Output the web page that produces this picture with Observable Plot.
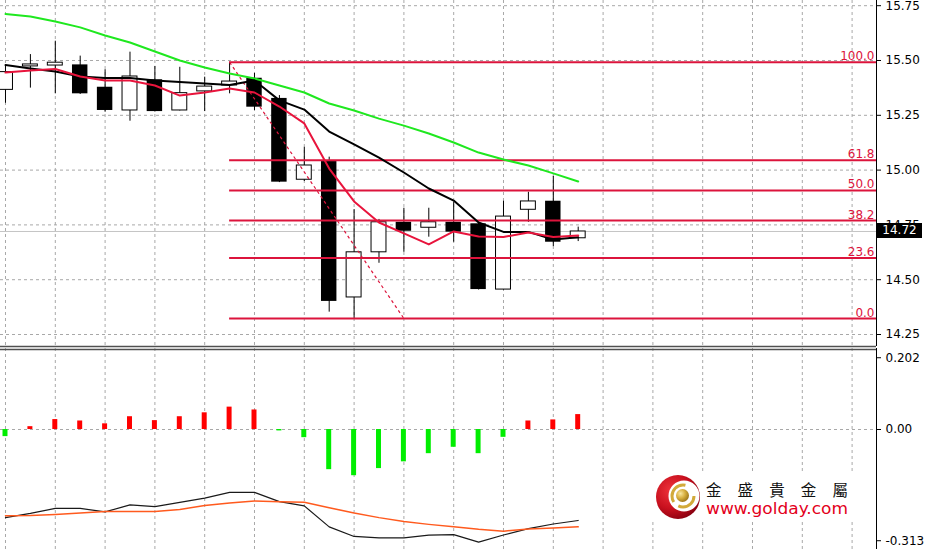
<!DOCTYPE html>
<html>
<head>
<meta charset="utf-8">
<script src="https://cdn.jsdelivr.net/npm/d3@7"></script>
<script src="https://cdn.jsdelivr.net/npm/@observablehq/plot@0.6"></script>
<style>
html, body { margin: 0; padding: 0; background: #fff; }
#wrap { position: relative; width: 929px; height: 549px; overflow: hidden; font-family: "DejaVu Sans", sans-serif; }
#main { position: absolute; left: 0; top: 0; }
#sub { position: absolute; left: 0; top: 348px; }
#price { position: absolute; left: 877px; width: 45px; height: 15px; line-height: 15px; background: #000; color: #fff;
  font: 12px "DejaVu Sans", sans-serif; text-align: center; }
#logo { position: absolute; left: 650px; top: 472px; }
</style>
</head>
<body>
<div id="wrap">
  <div id="main"></div>
  <div id="sub"></div>
  <div id="price"></div>
  <svg id="logo" width="206" height="50" viewBox="0 0 206 50">
    <defs>
      <radialGradient id="rg" cx="35%" cy="35%" r="70%">
        <stop offset="0" stop-color="#f0343c"/>
        <stop offset="0.6" stop-color="#c8101e"/>
        <stop offset="1" stop-color="#8a0010"/>
      </radialGradient>
      <radialGradient id="gg" cx="35%" cy="35%" r="70%">
        <stop offset="0" stop-color="#f8e6a0"/>
        <stop offset="0.5" stop-color="#d8b040"/>
        <stop offset="1" stop-color="#9a7418"/>
      </radialGradient>
    </defs>
    <rect x="0" y="0" width="206" height="50" fill="#fff"/>
    <circle cx="28" cy="25" r="22" fill="url(#rg)"/>
    <circle cx="34" cy="24" r="15.5" fill="#fff"/>
    <circle cx="33" cy="24" r="11" fill="none" stroke="#d2aa3a" stroke-width="3" stroke-dasharray="22 6 26 15"/>
    <circle cx="32.5" cy="23.5" r="6.5" fill="url(#gg)"/>
    <text x="56" y="23.5" font-family="Noto Sans CJK TC" font-size="15.5" fill="#111" textLength="142" lengthAdjust="spacing">金盛貴金屬</text>
    <text x="56" y="42" font-family="DejaVu Sans" font-size="15.5" fill="#e3001b" textLength="142" lengthAdjust="spacingAndGlyphs">www.golday.com</text>
  </svg>
</div>
<script>
// ---- candle data (one entry per bar) ----
const open  = [15.366, 15.473, 15.477, 15.480, 15.378, 15.272, 15.412, 15.272, 15.359, 15.386, 15.419, 15.327,
               14.956, 15.039, 14.419, 14.625, 14.762, 14.737, 14.762, 14.755, 14.455, 14.819, 14.858, 14.689];
const high  = [15.473, 15.527, 15.588, 15.520, 15.458, 15.538, 15.473, 15.469, 15.424, 15.492, 15.441, 15.340,
               15.104, 15.059, 14.820, 14.775, 14.826, 14.826, 14.854, 14.758, 14.858, 14.899, 14.971, 14.740];
const low   = [15.305, 15.374, 15.348, 15.345, 15.264, 15.223, 15.265, 15.270, 15.267, 15.348, 15.272, 14.943,
               14.948, 14.352, 14.323, 14.575, 14.625, 14.694, 14.671, 14.453, 14.453, 14.762, 14.651, 14.674];
const close = [15.447, 15.482, 15.490, 15.348, 15.272, 15.427, 15.267, 15.351, 15.381, 15.404, 15.287, 14.945,
               15.021, 14.401, 14.625, 14.762, 14.721, 14.762, 14.717, 14.455, 14.788, 14.857, 14.671, 14.720];

// ---- moving averages ----
const maRed   = [15.445, 15.454, 15.461, 15.427, 15.409, 15.409, 15.386, 15.340, 15.354, 15.372, 15.354, 15.290,
                 15.213, 15.007, 14.857, 14.761, 14.711, 14.661, 14.720, 14.697, 14.695, 14.715, 14.695, 14.702];
const maBlack = [15.479, 15.464, 15.450, 15.427, 15.420, 15.420, 15.409, 15.402, 15.395, 15.388, 15.409, 15.318,
                 15.276, 15.176, 15.117, 15.057, 14.989, 14.916, 14.861, 14.761, 14.718, 14.718, 14.683, 14.694];
const maGreen = [15.712, 15.701, 15.678, 15.651, 15.614, 15.582, 15.541, 15.500, 15.468, 15.441, 15.418, 15.386,
                 15.354, 15.304, 15.272, 15.235, 15.203, 15.167, 15.126, 15.080, 15.048, 15.021, 14.985, 14.948];

// ---- lower indicator ----
const histogram  = [-0.020, 0.008, 0.028, 0.024, 0.016, 0.036, 0.025, 0.036, 0.047, 0.063, 0.055, -0.004,
                    -0.023, -0.113, -0.130, -0.110, -0.091, -0.068, -0.050, -0.068, -0.022, 0.024, 0.027, 0.042];
const macdMain   = [-0.248, -0.236, -0.222, -0.222, -0.232, -0.212, -0.217, -0.205, -0.193, -0.177, -0.177, -0.203,
                    -0.215, -0.274, -0.301, -0.305, -0.305, -0.297, -0.296, -0.317, -0.297, -0.279, -0.266, -0.256];
const macdSignal = [-0.243, -0.242, -0.239, -0.235, -0.231, -0.231, -0.231, -0.225, -0.214, -0.207, -0.201, -0.203,
                    -0.205, -0.220, -0.235, -0.248, -0.259, -0.267, -0.274, -0.281, -0.286, -0.280, -0.277, -0.274];

// ---- fibonacci retracement ----
const fibLevels = [0, 23.6, 38.2, 50, 61.8, 100];
const fibHigh = 15.492, fibLow = 14.323;
const fibFromBar = 9, fibToBar = 16;

// ---- axes ----
const lastPrice = 14.72;
const priceTicks = [14.25, 14.50, 14.75, 15.00, 15.25, 15.50, 15.75];
const subTicks = [0.202, 0, -0.313];
const subTickLabels = ["0.202", "0.00", "-0.313"];

// ---- build tables ----
const candles = open.map((o, i) => ({i, o, h: high[i], l: low[i], c: close[i]}));
const upCandles = candles.filter(d => d.c >= d.o);
const downCandles = candles.filter(d => d.c < d.o);
const line = arr => arr.map((v, i) => ({i, v}));
const hist = histogram.map((v, i) => ({i, v}));
const fibs = fibLevels.map(f => ({f, y: fibLow + (fibHigh - fibLow) * f / 100, label: f.toFixed(1)}));

const W = 929, RIGHT = 53;
const xDom = [-0.2008, 34.98];
const yDom = [14.1953, 15.7737];
const subDom = [-0.3377, 0.2280];
const gridX = d3.range(0, 35, 2);
const dashed = {stroke: "#a8a8a8", strokeDasharray: "3,3", strokeWidth: 1};
const crimson = "#dc143c";
const style = {background: "transparent", fontFamily: "DejaVu Sans", fontSize: "12px", color: "#000", overflow: "visible"};

const main = Plot.plot({
  width: W, height: 347,
  marginLeft: 0, marginRight: RIGHT, marginTop: 0, marginBottom: 1,
  x: {domain: xDom, axis: null, label: null},
  y: {domain: yDom, axis: null, label: null},
  style,
  marks: [
    Plot.ruleX(gridX, dashed),
    Plot.ruleY(priceTicks, dashed),
    Plot.ruleY([lastPrice], {stroke: "#c4c4c4", strokeWidth: 1}),
    Plot.ruleX(candles, {x: "i", y1: "l", y2: "h", stroke: "#000", strokeWidth: 1}),
    Plot.rect(upCandles, {x1: d => d.i - 0.3, x2: d => d.i + 0.3, y1: "o", y2: "c", fill: "#fff", stroke: "#000", strokeWidth: 1}),
    Plot.rect(downCandles, {x1: d => d.i - 0.31, x2: d => d.i + 0.31, y1: "o", y2: "c", fill: "#000"}),
    Plot.ruleY(fibs, {y: "y", x1: fibFromBar, x2: xDom[1], stroke: crimson, strokeWidth: 2}),
    Plot.link([{}], {x1: fibFromBar, y1: fibHigh, x2: fibToBar, y2: fibLow, stroke: crimson, strokeWidth: 1.2, strokeDasharray: "3,3"}),
    Plot.text(fibs, {x: xDom[1], y: "y", text: "label", textAnchor: "end", lineAnchor: "bottom", dx: -2, dy: -2,
      fill: crimson, fontSize: 12}),
    Plot.line(line(maGreen), {x: "i", y: "v", stroke: "#1fe81f", strokeWidth: 2}),
    Plot.line(line(maBlack), {x: "i", y: "v", stroke: "#000", strokeWidth: 2}),
    Plot.line(line(maRed), {x: "i", y: "v", stroke: "#e8143c", strokeWidth: 2}),
    Plot.ruleX([xDom[1]], {stroke: "#000", strokeWidth: 1}),
    Plot.ruleY([yDom[0]], {stroke: "#505050", strokeWidth: 1.5}),
    Plot.axisY(priceTicks, {anchor: "right", label: null, tickSize: 4, tickPadding: 5, tickFormat: d => d.toFixed(2), fontSize: 12})
  ]
});
document.getElementById("main").append(main);

const sub = Plot.plot({
  width: W, height: 201,
  marginLeft: 0, marginRight: RIGHT, marginTop: 0, marginBottom: 0,
  x: {domain: xDom, axis: null, label: null},
  y: {domain: subDom, axis: null, label: null},
  style,
  marks: [
    Plot.ruleX(gridX, dashed),
    Plot.ruleY([0], dashed),
    Plot.rect(hist.filter(d => d.v >= 0), {x1: d => d.i - 0.1, x2: d => d.i + 0.1, y1: 0, y2: "v", fill: "#ff0000"}),
    Plot.rect(hist.filter(d => d.v < 0), {x1: d => d.i - 0.1, x2: d => d.i + 0.1, y1: 0, y2: "v", fill: "#00ee00"}),
    Plot.line(line(macdMain), {x: "i", y: "v", stroke: "#1a1a1a", strokeWidth: 1.2}),
    Plot.line(line(macdSignal), {x: "i", y: "v", stroke: "#ff5a1e", strokeWidth: 1.5}),
    Plot.ruleX([xDom[1]], {stroke: "#000", strokeWidth: 1}),
    Plot.ruleY([subDom[1]], {stroke: "#505050", strokeWidth: 1.5, dy: 1}),
    Plot.axisY(subTicks, {anchor: "right", label: null, tickSize: 4, tickPadding: 5,
      tickFormat: d => subTickLabels[subTicks.indexOf(d)], fontSize: 12})
  ]
});
document.getElementById("sub").append(sub);

const py = main.scale("y").apply(lastPrice);
const box = document.getElementById("price");
box.style.top = (py - 7.5) + "px";
box.textContent = lastPrice.toFixed(2);
</script>
</body>
</html>
